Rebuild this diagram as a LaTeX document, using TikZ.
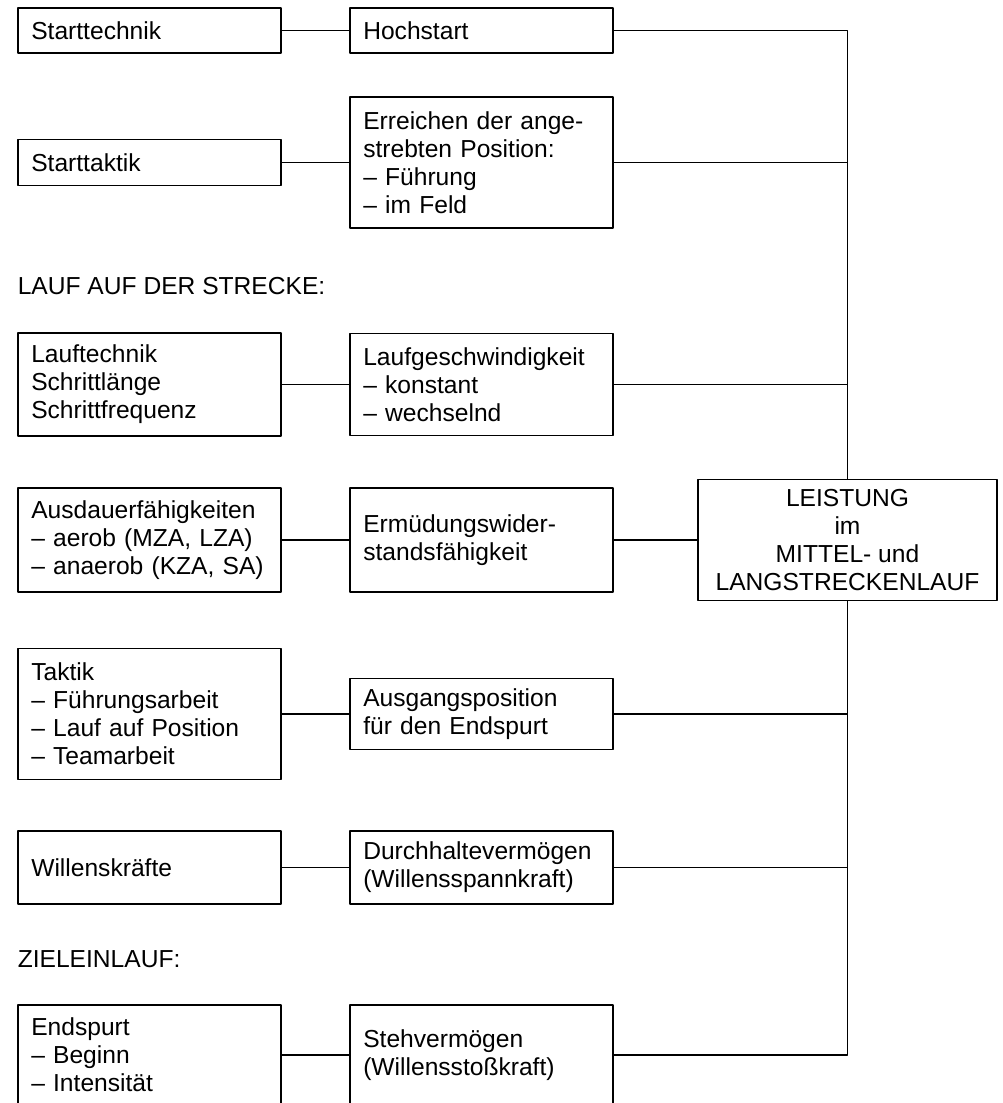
\documentclass[tikz,border=0pt]{standalone}
\usepackage{fontspec}
\setmainfont{Liberation Sans}

\begin{document}
\begin{tikzpicture}[x=0.02cm, y=-0.02cm, line width=0.9pt, line join=round, font=\fontsize{14}{16}\selectfont,
	feld/.style={draw, anchor=west, text width=4.72cm, inner xsep=0.27cm, inner ysep=0pt, align=left},
	titel/.style={anchor=west, inner sep=0pt}]
	\useasboundingbox (0,0) rectangle (1003,1103);
	\clip (0,0) rectangle (1003,1103);
	
	% 1. Start
	\node[feld, minimum height=0.9cm] (l1) at (17,30.5) {Starttechnik};
	\node[feld, minimum height=0.9cm] (m1) at (349,30.5) {Hochstart};
	\node[feld, minimum height=0.92cm] (l2) at (17,162.5) {Starttaktik};
	\node[feld, minimum height=2.62cm] (m2) at (349,162.5) {Erreichen der ange-\\strebten Position:\\– Führung\\– im Feld};
	
	% 2. Lauf auf der Strecke
	\node[titel] at (17,286) {LAUF AUF DER STRECKE:};
	\node[feld, minimum height=2.06cm] (l3) at (17,384.5) {Lauftechnik\\Schrittlänge\\Schrittfrequenz};
	\node[feld, minimum height=2.04cm] (m3) at (349,384.5) {Laufgeschwindigkeit\\– konstant\\– wechselnd};
	\node[feld, minimum height=2.08cm] (l4) at (17,540) {Ausdauerfähigkeiten\\– aerob (MZA, LZA)\\– anaerob (KZA, SA)};
	\node[feld, minimum height=2.08cm] (m4) at (349,540) {Ermüdungswider-\\standsfähigkeit};
	\node[feld, minimum height=2.62cm] (l5) at (17,714) {Taktik\\– Führungsarbeit\\– Lauf auf Position\\– Teamarbeit};
	\node[feld, minimum height=1.42cm] (m5) at (349,714) {Ausgangsposition\\für den Endspurt};
	\node[feld, minimum height=1.46cm] (l6) at (17,867.5) {Willenskräfte};
	\node[feld, minimum height=1.46cm] (m6) at (349,867.5) {Durchhaltevermögen\\(Willensspannkraft)};
	
	% 3. Zieleinlauf (Kästen laufen unten aus)
	\node[titel] at (17,959) {ZIELEINLAUF:};
	\node[feld, minimum height=2.0cm] (l7) at (17,1055) {Endspurt\\– Beginn\\– Intensität};
	\node[feld, minimum height=2.0cm] (m7) at (349,1055) {Stehvermögen\\(Willensstoßkraft)};
	
	% 4. Leistung
	\node[draw, align=center, minimum width=5.98cm, minimum height=2.42cm, inner sep=0pt] (L) at (847.5,540)
		{LEISTUNG\\im\\MITTEL- und\\LANGSTRECKENLAUF};
	
	% 5. Verbindungen
	\foreach \i in {1,...,7} {
		\draw (l\i.east) -- (m\i.west);
	}
	\draw (m1.east) -| (L.north);
	\draw (L.south) |- (m7.east);
	\draw (m4.east) -- (L.west);
	\foreach \i in {2,3,5,6} {
		\draw (m\i.east) -- (m\i.east -| L.north);
	}
\end{tikzpicture}
\end{document}
